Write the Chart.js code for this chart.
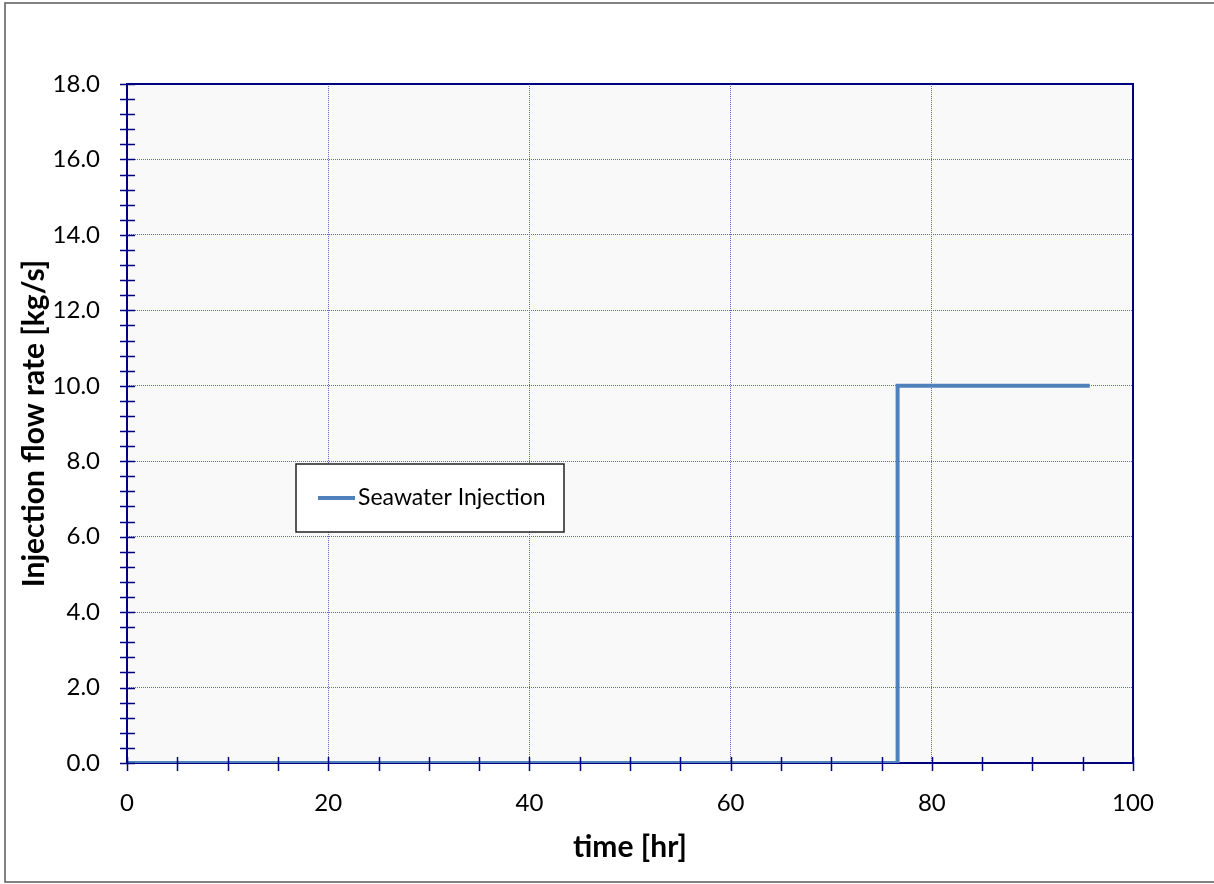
<!DOCTYPE html>
<html>
<head>
<meta charset="utf-8">
<title>Seawater Injection</title>
<script src="https://cdn.jsdelivr.net/npm/chart.js@4"></script>
<style>
  html, body { margin: 0; padding: 0; background: #fff; }
  #wrap { width: 1214px; height: 884px; }
</style>
</head>
<body>
<div id="wrap"><canvas id="chart"></canvas></div>
<script>
// ---------- Data ----------
const seriesLabel = "Seawater Injection";
const timeHr = [0, 76.6, 76.6, 95.7];      // hr
const flowRate = [0, 0, 10.0, 10.0];       // kg/s
const xTicks = [0, 20, 40, 60, 80, 100];
const yTicks = [0, 2, 4, 6, 8, 10, 12, 14, 16, 18];
const xMinorStep = 5;
const yMinorStep = 0.4;

const navy = "#000080";
const lineBlue = "#4F81BD";
const gridColor = "#6666b8";

// plot background, outer border, frame, minor ticks, legend box
const decor = {
  id: "decor",
  beforeDraw(chart) {
    const { ctx, chartArea: a } = chart;
    ctx.save();
    ctx.fillStyle = "#f9f9f9";
    ctx.fillRect(a.left, a.top, a.right - a.left, a.bottom - a.top);
    ctx.strokeStyle = "#5a5a5a";
    ctx.lineWidth = 1.5;
    ctx.strokeRect(5, 3, 1220, 879);
    ctx.restore();
  },
  beforeDatasetsDraw(chart) {
    const { ctx, chartArea: a } = chart;
    ctx.save();
    ctx.strokeStyle = navy;
    ctx.lineWidth = 2;
    ctx.strokeRect(a.left, a.top, a.right - a.left, a.bottom - a.top);
    ctx.restore();
  },
  afterDatasetsDraw(chart) {
    const { ctx, chartArea: a, scales } = chart;
    ctx.save();
    ctx.strokeStyle = navy;
    ctx.lineWidth = 1.5;
    ctx.beginPath();
    for (let v = 0; v <= scales.x.max + 1e-9; v += xMinorStep) {
      const px = Math.round(scales.x.getPixelForValue(v)) + 0.5;
      ctx.moveTo(px, a.bottom - 6);
      ctx.lineTo(px, a.bottom + 8);
    }
    for (let i = 0; i * yMinorStep <= scales.y.max + 1e-9; i++) {
      const py = Math.round(scales.y.getPixelForValue(i * yMinorStep)) + 0.5;
      ctx.moveTo(a.left - 7, py);
      ctx.lineTo(a.left + 8, py);
    }
    ctx.stroke();

    // legend box
    const lx = 296, ly = 464, lw = 268, lh = 68;
    ctx.fillStyle = "#fff";
    ctx.fillRect(lx, ly, lw, lh);
    ctx.strokeStyle = "#222";
    ctx.lineWidth = 1.5;
    ctx.strokeRect(lx, ly, lw, lh);
    ctx.strokeStyle = lineBlue;
    ctx.lineWidth = 4;
    ctx.beginPath();
    ctx.moveTo(318, 498);
    ctx.lineTo(355, 498);
    ctx.stroke();
    ctx.fillStyle = "#000";
    ctx.font = "23px Lato";
    ctx.textBaseline = "middle";
    ctx.fillText(chart.data.datasets[0].label, 358, 498);
    ctx.restore();
  },
};

const ctx = document.getElementById("chart");
new Chart(ctx, {
  type: "scatter",
  data: {
    datasets: [
      {
        label: seriesLabel,
        data: timeHr.map((t, i) => ({ x: t, y: flowRate[i] })),
        showLine: true,
        borderColor: lineBlue,
        backgroundColor: lineBlue,
        borderWidth: 4,
        pointRadius: 0,
        fill: false,
      },
    ],
  },
  options: {
    responsive: true,
    maintainAspectRatio: false,
    animation: false,
    layout: { padding: { left: 0, top: 84, right: 81, bottom: 0 } },
    plugins: { legend: { display: false }, tooltip: { enabled: false } },
    scales: {
      x: {
        type: "linear",
        min: 0,
        max: 100,
        afterFit: (s) => { s.height = 121; },
        afterBuildTicks: (s) => { s.ticks = xTicks.map((v) => ({ value: v })); },
        ticks: { color: "#000", padding: 26, font: { family: "Lato", size: 24 } },
        grid: { color: gridColor, lineWidth: 1, drawTicks: false },
        border: { display: false, dash: [1, 1] },
        title: {
          display: true,
          text: "time [hr]",
          color: "#000",
          font: { family: "Lato", size: 30, weight: "bold" },
          padding: { top: 0, bottom: 19 },
        },
      },
      y: {
        type: "linear",
        min: 0,
        max: 18,
        afterFit: (s) => { s.width = 127; },
        afterBuildTicks: (s) => { s.ticks = yTicks.map((v) => ({ value: v })); },
        ticks: {
          color: "#000",
          padding: 27,
          font: { family: "Lato", size: 24 },
          callback: (v) => Number(v).toFixed(1),
        },
        grid: { color: gridColor, lineWidth: 1, drawTicks: false },
        border: { display: false, dash: [1, 1] },
        title: {
          display: true,
          text: "Injection flow rate [kg/s]",
          color: "#000",
          font: { family: "Lato", size: 30, weight: "bold" },
          padding: { top: 16, bottom: 0 },
        },
      },
    },
  },
  plugins: [decor],
});
</script>
</body>
</html>
